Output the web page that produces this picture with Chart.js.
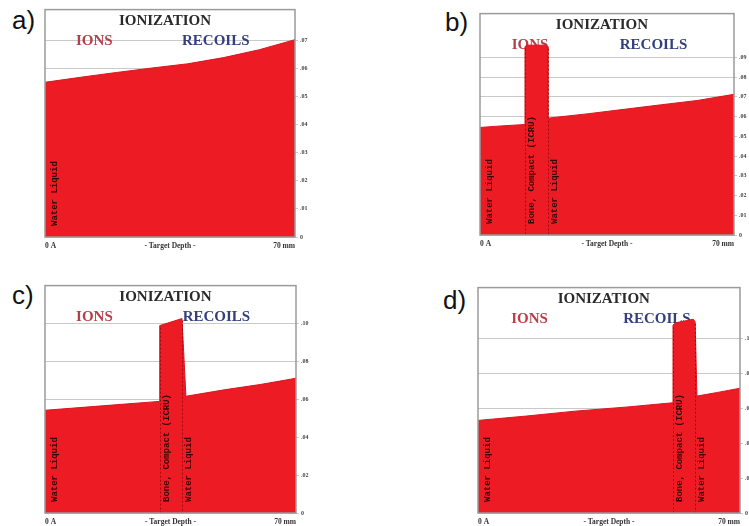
<!DOCTYPE html>
<html><head><meta charset="utf-8">
<script src="https://cdn.jsdelivr.net/npm/chart.js@4.4.1/dist/chart.umd.min.js"></script>
<style>
html,body{margin:0;padding:0;background:#fff;width:749px;height:526px;overflow:hidden;position:relative}
canvas{position:absolute}
.lbl{position:absolute;font:26px 'Liberation Sans',Arial,sans-serif;line-height:26px;color:#111}
</style></head><body>
<div class="lbl" style="left:12px;top:7px">a)</div>
<div class="lbl" style="left:445px;top:9px">b)</div>
<div class="lbl" style="left:12px;top:282px">c)</div>
<div class="lbl" style="left:443px;top:287px">d)</div>
<canvas id="ca"></canvas>
<canvas id="cb"></canvas>
<canvas id="cc"></canvas>
<canvas id="cd"></canvas>
<script>
// ---- data (depth in mm, ionization) ----
const depthA = [0, 10, 20, 30, 40, 50, 60, 70];
const ionA   = [.0551, .0569, .0586, .0602, .0617, .0639, .0667, .0703];

const depthB = [0, 6, 12.4, 12.4, 13.2, 18.0, 18.7, 18.7, 30, 42, 50, 60, 70];
const ionB   = [.0545, .0553, .0560, .0955, .0962, .0962, .0955, .0592, .0615, .0642, .0660, .0682, .0713];

const depthC = [0, 15, 32.0, 32.0, 38.2, 39.3, 50, 60, 70];
const ionC   = [.0542, .0564, .0589, .0989, .1026, .0616, .0650, .0678, .0711];

const depthD = [0, 13, 26, 40, 52.1, 52.1, 52.7, 57.5, 58.0, 58.5, 64, 70];
const ionD   = [.053, .0555, .0583, .0607, .0631, .1075, .1088, .1109, .1095, .0669, .0690, .0714];

// layers (start depth, name)
const layerStartsA = [0];
const layerNamesA  = ['Water Liquid'];
const layerStartsB = [0, 12.4, 18.7];
const layerNamesB  = ['Water Liquid', 'Bone, Compact (ICRU)', 'Water Liquid'];
const layerStartsC = [0, 32.0, 38.2];
const layerNamesC  = ['Water Liquid', 'Bone, Compact (ICRU)', 'Water Liquid'];
const layerStartsD = [0, 52.1, 58.0];
const layerNamesD  = ['Water Liquid', 'Bone, Compact (ICRU)', 'Water Liquid'];

// tick labels
const yTicksA = [0, .01, .02, .03, .04, .05, .06, .07];
const yTicksB = [0, .01, .02, .03, .04, .05, .06, .07, .08, .09];
const yTicksC = [0, .02, .04, .06, .08, .10];
const yTicksD = [0, .02, .04, .06, .08, .10];
const xTickValues = [0, 35, 70];
const xTickLabels = ['0 A', '- Target Depth -', '70 mm'];
const titleText = 'IONIZATION';
const ionsText = 'IONS';
const recoilsText = 'RECOILS';

function fmtY(v){
  if (Math.abs(v) < 1e-9) return '0';
  return '.' + String(Math.round(v*100)).padStart(2,'0');
}

const AX_W = 14, AX_H = 18, PAD = 5, RPAD = 4, BPAD = 4;

function makePanel(id, depth, ion, yTicks, yMax, starts, names, box){
  const cv = document.getElementById(id);
  const W = box.r - box.l + PAD + AX_W + RPAD;
  const H = box.b - box.t + PAD + AX_H + BPAD;
  cv.width = W; cv.height = H;
  cv.style.left = (box.l - PAD) + 'px';
  cv.style.top = (box.t - PAD) + 'px';
  cv.style.width = W + 'px'; cv.style.height = H + 'px';

  const deco = {
    id: 'deco' + id,
    beforeDatasetsDraw(chart){
      const {ctx, chartArea:a} = chart;
      const w = a.right - a.left;
      ctx.save();
      ctx.textAlign = 'center'; ctx.textBaseline = 'middle';
      ctx.font = 'bold 15px "Liberation Serif", "Times New Roman", serif';
      ctx.fillStyle = '#2a2a2a';
      ctx.fillText(titleText, a.left + 0.48*w, a.top + 12);
      ctx.fillStyle = '#b5404a';
      ctx.fillText(ionsText, a.left + 0.197*w, a.top + 32);
      ctx.fillStyle = '#34407e';
      ctx.fillText(recoilsText, a.left + 0.683*w, a.top + 32);
      ctx.restore();
    },
    afterDatasetsDraw(chart){
      const {ctx, chartArea:a, scales} = chart;
      const xs = scales.x, ys = scales.y;
      ctx.save();
      // layer boundary dotted lines
      starts.forEach((s) => {
        if (s <= 0) return;
        let top = -1;
        depth.forEach((d,i) => { if (d === s && ion[i] > top) top = ion[i]; });
        const x = Math.round(xs.getPixelForValue(s)) + 0.5;
        ctx.strokeStyle = 'rgba(140,0,10,0.75)';
        ctx.lineWidth = 1;
        ctx.setLineDash([2,2]);
        ctx.beginPath();
        ctx.moveTo(x, ys.getPixelForValue(top) + 2);
        ctx.lineTo(x, a.bottom);
        ctx.stroke();
      });
      ctx.setLineDash([]);
      // layer names, vertical
      ctx.font = 'bold 9px "Liberation Mono", "Courier New", monospace';
      ctx.fillStyle = 'rgba(35,0,0,0.9)';
      ctx.textAlign = 'left'; ctx.textBaseline = 'middle';
      starts.forEach((s, i) => {
        const x = xs.getPixelForValue(s) + (s <= 0 ? 10 : 7);
        ctx.save();
        ctx.translate(x, a.bottom - 11);
        ctx.rotate(-Math.PI/2);
        ctx.fillText(names[i], 0, 0);
        ctx.restore();
      });
      // frame
      ctx.strokeStyle = '#9a9a9a';
      ctx.lineWidth = 1.5;
      ctx.strokeRect(a.left, a.top, a.right - a.left, a.bottom - a.top);
      ctx.restore();
    }
  };

  return new Chart(cv, {
    type: 'line',
    data: {
      datasets: [{
        data: depth.map((d,i) => ({x: d, y: ion[i]})),
        fill: 'origin',
        backgroundColor: '#ed1c24',
        borderColor: '#d9161e',
        borderWidth: 1,
        pointRadius: 0,
        tension: 0
      }]
    },
    options: {
      responsive: false,
      animation: false,
      devicePixelRatio: 1,
      layout: { padding: { left: PAD, top: PAD, right: RPAD, bottom: BPAD } },
      plugins: { legend: { display: false }, tooltip: { enabled: false } },
      scales: {
        x: {
          type: 'linear', min: 0, max: 70,
          afterBuildTicks: s => { s.ticks = xTickValues.map(v => ({value: v})); },
          afterFit: s => { s.height = AX_H; },
          grid: { display: false, drawTicks: false, tickLength: 0 },
          border: { display: false },
          ticks: {
            autoSkip: false, maxRotation: 0, align: 'inner', padding: 5,
            callback: (v, i) => xTickLabels[i],
            color: '#333',
            font: { family: '"Liberation Serif", serif', size: 7.5, weight: 'bold' }
          }
        },
        y: {
          type: 'linear', position: 'right', min: 0, max: yMax,
          afterBuildTicks: s => { s.ticks = yTicks.map(v => ({value: v})); },
          afterFit: s => { s.width = AX_W; },
          border: { display: false },
          grid: { color: '#c9c9c9', lineWidth: 1, tickLength: 3 },
          ticks: {
            padding: 2,
            callback: v => fmtY(v),
            color: '#444',
            font: { family: '"Liberation Serif", serif', size: 6, weight: 'bold' }
          }
        }
      }
    },
    plugins: [deco]
  });
}

makePanel('ca', depthA, ionA, yTicksA, 0.0810, layerStartsA, layerNamesA, {l:45, t:9, r:295, b:237});
makePanel('cb', depthB, ionB, yTicksB, 0.1122, layerStartsB, layerNamesB, {l:480, t:13, r:734, b:235});
makePanel('cc', depthC, ionC, yTicksC, 0.1200, layerStartsC, layerNamesC, {l:45, t:285, r:296, b:513});
makePanel('cd', depthD, ionD, yTicksD, 0.1290, layerStartsD, layerNamesD, {l:478, t:287, r:740, b:513});
</script>
</body></html>
